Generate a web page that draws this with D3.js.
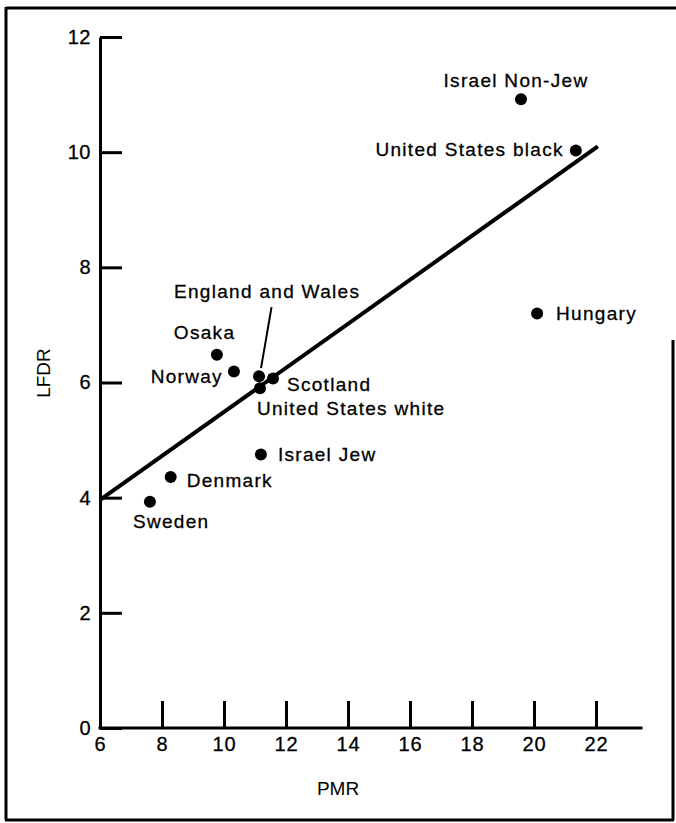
<!DOCTYPE html>
<html>
<head>
<meta charset="utf-8">
<script src="https://cdn.jsdelivr.net/npm/d3@7"></script>
<style>
  body { margin: 0; background: #fff; }
  text { font-family: "Liberation Sans", Arial, sans-serif; fill: #000; }
</style>
</head>
<body>
<div id="wrapper"></div>
<script>
// data
const countries = ["Israel Non-Jew", "United States black", "Hungary", "England and Wales",
    "Osaka", "Norway", "Scotland", "United States white", "Israel Jew", "Denmark", "Sweden"];
const pmr = [19.58, 21.35, 20.1, 11.13, 9.77, 10.32, 11.58, 11.16, 11.19, 8.28, 7.61];
const lfdr = [10.92, 10.03, 7.2, 6.11, 6.48, 6.19, 6.07, 5.9, 4.75, 4.36, 3.93];
const fitLine = [[6, 3.96], [22.06, 10.1]];
const xTicks = [6, 8, 10, 12, 14, 16, 18, 20, 22];
const yTicks = [0, 2, 4, 6, 8, 10, 12];

// label placement (pixels from the dot)
const labelPos = {
    "Israel Non-Jew": [-5, -12, "middle"],
    "United States black": [-12, 6, "end"],
    "Hungary": [19, 7, "start"],
    "England and Wales": [-85, -78, "start"],
    "Osaka": [-43, -16, "start"],
    "Norway": [-11, 11, "end"],
    "Scotland": [14, 13, "start"],
    "United States white": [-3, 27, "start"],
    "Israel Jew": [17, 7, "start"],
    "Denmark": [16, 10, "start"],
    "Sweden": [-17, 26, "start"],
};

const data = countries.map((c, i) => ({ name: c, x: pmr[i], y: lfdr[i] }));

const width = 676, height = 823;
const svg = d3.select("#wrapper").append("svg")
    .attr("width", width)
    .attr("height", height);

// frame
const frame = svg.append("g").attr("stroke", "#000").attr("stroke-width", 3);
frame.append("line").attr("x1", 6).attr("x2", 676).attr("y1", 8).attr("y2", 8);
frame.append("line").attr("x1", 6).attr("x2", 6).attr("y1", 7).attr("y2", 820);
frame.append("line").attr("x1", 5).attr("x2", 674).attr("y1", 820).attr("y2", 820);
frame.append("line").attr("x1", 673).attr("x2", 673).attr("y1", 340).attr("y2", 820);

const xScale = d3.scaleLinear().domain([6, 22]).range([100, 596]);
const yScale = d3.scaleLinear().domain([0, 12]).range([728, 37]);

// y axis
const yAxis = svg.append("g")
    .attr("transform", `translate(${xScale(6)},0)`)
    .call(d3.axisLeft(yScale).tickValues(yTicks).tickSize(-22).tickSizeOuter(0).tickPadding(9));
yAxis.select(".domain").attr("stroke-width", 3);
yAxis.selectAll(".tick line").attr("stroke-width", 3);
yAxis.selectAll(".tick text")
    .style("font-size", "20px").style("letter-spacing", "0.5px")
    .style("stroke", "#000").style("stroke-width", "0.3px");

// x axis
const xAxis = svg.append("g")
    .attr("transform", `translate(0,${yScale(0)})`)
    .call(d3.axisBottom(xScale).tickValues(xTicks).tickSize(-27).tickPadding(9));
xAxis.select(".domain").remove();
xAxis.append("line")
    .attr("x1", xScale(6) - 1.5).attr("x2", xScale(23.5))
    .attr("stroke", "#000").attr("stroke-width", 3);
xAxis.selectAll(".tick line").attr("stroke-width", 3);
xAxis.selectAll(".tick text")
    .style("font-size", "20px").style("letter-spacing", "1px")
    .style("stroke", "#000").style("stroke-width", "0.3px");

svg.append("text")
    .attr("x", 338).attr("y", 795)
    .attr("text-anchor", "middle")
    .style("font-size", "19px")
    .text("PMR");

svg.append("text")
    .attr("transform", "translate(50,373) rotate(-90)")
    .attr("text-anchor", "middle")
    .style("font-size", "19px")
    .text("LFDR");

// regression line
const line = d3.line().x(d => xScale(d[0])).y(d => yScale(d[1]));
svg.append("path")
    .attr("d", line(fitLine))
    .attr("fill", "none")
    .attr("stroke", "#000")
    .attr("stroke-width", 4);

// points
svg.append("g").selectAll("circle")
    .data(data)
    .join("circle")
    .attr("cx", d => xScale(d.x))
    .attr("cy", d => yScale(d.y))
    .attr("r", 6)
    .attr("fill", "#000");

// leader for England and Wales
const ew = data.find(d => d.name === "England and Wales");
svg.append("line")
    .attr("x1", xScale(ew.x) + 12.5).attr("y1", yScale(ew.y) - 69)
    .attr("x2", xScale(ew.x) + 2).attr("y2", yScale(ew.y) - 8)
    .attr("stroke", "#000").attr("stroke-width", 2);

svg.append("g").selectAll("text")
    .data(data)
    .join("text")
    .attr("x", d => xScale(d.x) + labelPos[d.name][0])
    .attr("y", d => yScale(d.y) + labelPos[d.name][1])
    .attr("text-anchor", d => labelPos[d.name][2])
    .style("font-size", "19px")
    .style("letter-spacing", "1.3px")
    .style("stroke", "#000")
    .style("stroke-width", "0.3px")
    .text(d => d.name);
</script>
</body>
</html>
